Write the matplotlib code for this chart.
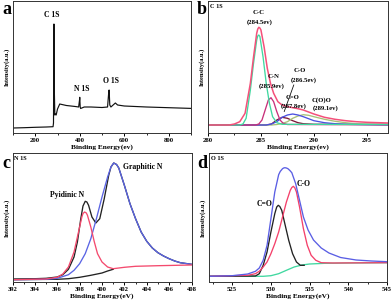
import matplotlib
matplotlib.use("Agg")
import matplotlib.pyplot as plt
from matplotlib.ticker import MultipleLocator

plt.rcParams['font.family'] = ['Liberation Serif', 'DejaVu Serif']
plt.rcParams['font.weight'] = 'bold'

# ---------------- Panel a: survey ----------------
a_x = [100, 150, 200, 250, 280, 282, 284, 286, 288, 290, 294, 300, 310, 320, 340, 360, 380, 395,
       399, 400, 402, 404, 420, 450, 500, 525, 530, 532, 535, 540, 550, 560, 570, 600, 700, 800, 900]
a_y = [5, 5.3, 5.7, 6, 6.3, 10, 109, 40, 18, 19, 18, 24, 29, 28.5, 27.5, 27, 26.5, 26,
       33, 35.7, 26, 24.5, 26, 26, 25.5, 26, 40, 43, 28, 26, 28, 30, 28, 27, 26, 25.3, 24.6]
a_labels = ["C 1S", "N 1S", "O 1S"]
a_label_x = [276, 410, 542]
a_label_y = [118, 44, 52]

# ---------------- Panel b: C 1S ----------------
b_tot_x = [280, 282, 282.5, 283, 283.5, 284, 284.3, 284.6, 284.7, 284.8, 284.9, 285.0, 285.3, 285.6, 285.9, 286.2,
           286.6, 287, 287.5, 288, 288.5, 289, 289.5, 290, 291, 292, 293, 294, 295, 297]
b_tot_y = [8, 8, 9, 11.3, 19.7, 49.7, 76, 99.7, 104, 105.7, 105, 103, 86, 64.7, 49.7, 39.7,
           31.3, 28, 26.3, 25.3, 24.3, 23, 21, 19, 15.7, 13.7, 12.3, 11.3, 10.7, 10]
b_cc_x = [280, 283, 283.3, 283.6, 284, 284.3, 284.6, 284.7, 284.8, 284.9, 285.2, 285.5, 285.8, 286.1, 286.5, 287, 297]
b_cc_y = [8, 8, 9, 14.7, 43, 69.7, 93, 97, 98, 96.5, 76, 49.7, 29.7, 16.3, 10.3, 8.7, 8.5]
b_cn_x = [280, 284.5, 284.8, 285.1, 285.4, 285.7, 285.95, 286.2, 286.5, 286.8, 287.1, 287.5, 297]
b_cn_y = [8, 8, 9, 13, 23, 33, 35.3, 31.3, 21.3, 13, 9.7, 8.5, 8.2]
b_co_x = [280, 285.5, 286, 286.5, 287, 287.5, 288, 288.5, 289, 289.5, 290, 291, 292, 293, 295, 297]
b_co_y = [8, 8, 9, 11.3, 15.7, 18, 19, 18, 16.3, 14.3, 12.3, 10.3, 9.3, 8.7, 8.3, 8]
b_coo_x = [280, 286, 286.5, 287, 287.5, 288, 288.5, 289, 289.5, 290, 291, 292, 293, 294, 295, 297]
b_coo_y = [8, 8, 8.5, 9.5, 11.3, 14.7, 17, 18.3, 17.7, 16.3, 13.7, 11.7, 10.3, 9.3, 8.7, 8.3]
b_cdo_x = [280, 285.5, 286, 286.5, 287, 287.5, 288, 288.5, 289, 290, 297]
b_cdo_y = [8, 8, 9, 13, 15.7, 14.7, 12.3, 10.3, 9.3, 8.7, 8.7]
b_labels = ["C-C", "(284.5ev)", "C-N", "(285.9ev)", "C-O", "(286.5ev)", "C=O", "(287.8ev)", "C(O)O", "(289.1ev)"]
b_label_x = [284.75, 284.87, 286.2, 286.0, 288.7, 289.0, 288.0, 288.1, 290.7, 291.1]
b_label_y = [120.3, 111, 56, 47, 62.3, 53, 35.3, 27, 33, 25]

# ---------------- Panel c: N 1S ----------------
c_tot_x = [392, 394, 395, 396, 396.5, 397, 397.5, 397.8, 398.1, 398.3, 398.5, 398.65, 398.8, 399.1, 399.45, 399.8,
           400.2, 400.6, 400.8, 401.05, 401.3, 401.5, 402, 402.5, 403, 403.5, 404, 404.5, 405, 405.5, 406, 406.5, 407, 408]
c_tot_y = [3, 3.3, 3.7, 5, 7.3, 12.7, 25, 40, 63, 76, 80.7, 80, 76.7, 65, 59, 63.3,
           83.3, 106.7, 115, 119, 117.5, 114, 96.7, 78.3, 63.3, 50, 40.7, 34, 29.3, 26, 23.3, 21, 19.3, 17.7]
c_gr_x = [392, 395, 396, 397, 397.5, 398, 398.5, 399, 399.5, 400, 400.5, 400.8, 401.05, 401.3, 401.5, 402, 402.5,
          403, 403.5, 404, 404.5, 405, 405.5, 406, 406.5, 407, 408]
c_gr_y = [2.3, 2.7, 3.7, 7.3, 11.7, 18.3, 28.3, 43.3, 63.3, 85, 105, 115, 119, 117.5, 114, 96.7, 78.3,
          63.3, 50, 40.7, 34, 29.3, 26, 23.3, 21, 19.3, 17.7]
c_py_x = [392, 395, 396, 396.5, 397, 397.5, 397.9, 398.2, 398.3, 398.45, 398.6, 398.7, 399, 399.3, 399.6, 400, 400.5,
          401, 402, 403, 405, 408]
c_py_y = [2.3, 3, 4.7, 8, 15, 30, 50, 65, 68.5, 70, 69, 66.7, 55, 40.7, 28.3, 20, 15,
          13.3, 14.7, 15.7, 16.3, 17]
c_bg_x = [392, 396, 397, 398, 399, 400, 400.5, 401]
c_bg_y = [2.3, 2.7, 3.3, 4.7, 6.7, 9, 11, 12.7]
c_labels = ["Pyidinic N", "Graphitic N"]
c_label_x = [396.9, 403.6]
c_label_y = [86.7, 115]

# ---------------- Panel d: O 1S ----------------
d_tot_x = [522, 525, 527, 528, 528.5, 529, 529.5, 530, 530.5, 531, 531.2, 531.5, 531.65, 531.8, 532, 532.2, 532.45,
           532.7, 533.2, 533.7, 534.2, 534.8, 535.5, 536.5, 537.5, 539, 541, 543, 545]
d_tot_y = [5.7, 6.3, 8, 10.7, 14, 21.7, 36.7, 63.3, 90, 107.3, 110.5, 113.3, 114, 114.3, 114, 113.3, 111.5,
           109.3, 98.3, 81.7, 65, 52, 42, 34, 29, 24.5, 22, 21, 20.3]
d_co_x = [522, 527, 528, 528.5, 529, 529.5, 530, 530.5, 531, 531.5, 532, 532.5, 532.7, 532.9, 533.1, 533.3, 533.7,
          534.2, 534.7, 535.2, 535.8, 536.5, 538, 545]
d_co_y = [5.7, 6.7, 8.3, 10.7, 15, 20, 28.3, 38.3, 50, 65, 80, 91.7, 94.5, 95.7, 94, 90, 75,
          53.3, 36.7, 26.7, 21.7, 19.3, 19, 19.3]
d_cdo_x = [522, 528, 528.5, 529, 529.5, 530, 530.5, 530.75, 530.95, 531.15, 531.4, 531.8, 532.3, 532.8, 533.3,
           533.8, 534.3]
d_cdo_y = [5.7, 6, 8.3, 16.7, 30, 50, 68.3, 75, 76.7, 75.5, 71.7, 58.3, 41.7, 28.3, 20, 16.7, 16.7]
d_bg_x = [522, 529, 530, 531, 532, 533, 534, 535, 537, 540, 545]
d_bg_y = [5.7, 5.7, 6.3, 8.3, 11.7, 15, 17, 18, 18.7, 19, 19.3]
d_labels = ["C-O", "C=O"]
d_label_x = [534.2, 529.2]
d_label_y = [98.3, 78.3]

W, H = 392, 304
fig = plt.figure(figsize=(W / 100, H / 100), dpi=100)


def rect(l, t, r, b):
    return [l / W, 1 - b / H, (r - l) / W, (b - t) / H]


def style(ax, xlim, ylim, major, minor, xlabel):
    ax.set_xlim(*xlim)
    ax.set_ylim(*ylim)
    ax.xaxis.set_major_locator(MultipleLocator(major))
    ax.xaxis.set_minor_locator(MultipleLocator(minor))
    ax.set_yticks([])
    ax.tick_params(axis='x', which='major', length=2.2, width=0.7, labelsize=4.8, pad=1.5)
    ax.tick_params(axis='x', which='minor', length=1.4, width=0.6)
    for lab in ax.get_xticklabels():
        lab.set_fontweight('bold')
    for s in ax.spines.values():
        s.set_linewidth(0.7)
        s.set_color('#333333')
    ax.set_xlabel(xlabel, fontsize=5.3, fontweight='bold', labelpad=1)
    ax.set_ylabel("Intensity(a.u.)", fontsize=4.6, fontweight='bold', labelpad=2)


lw = 0.95
# a
ax = fig.add_axes(rect(13, 1, 191, 133))
ax.plot(a_x, a_y, color='#111111', lw=0.85)
for t, x, y in zip(a_labels, a_label_x, a_label_y):
    ax.text(x, y, t, fontsize=5.5, fontweight='bold', ha='center', va='center')
style(ax, (100, 900), (0, 132), 200, 100, "Binding Energy(ev)")
fig.text(2 / W, 1 - 10 / H, "a", fontsize=13, fontweight='bold', va='center', ha='left')

# b
ax = fig.add_axes(rect(208, 1, 388, 133))
ax.plot(b_cdo_x, b_cdo_y, color='#7a1838', lw=lw)
ax.plot(b_coo_x, b_coo_y, color='#a8c078', lw=lw)
ax.plot(b_co_x, b_co_y, color='#4a50e0', lw=lw)
ax.plot(b_cn_x, b_cn_y, color='#c8307a', lw=lw)
ax.plot(b_cc_x, b_cc_y, color='#40d8a0', lw=lw)
ax.plot(b_tot_x, b_tot_y, color='#f4507a', lw=1.1)
ax.plot([288.1, 287.2], [48, 21.5], color='#111111', lw=0.6)
for t, x, y in zip(b_labels, b_label_x, b_label_y):
    ax.text(x, y, t, fontsize=4.8, fontweight='bold', ha='center', va='center')
ax.text(0.01, 0.975, "C 1S", transform=ax.transAxes, fontsize=4.5, fontweight='bold', ha='left', va='top')
style(ax, (280, 297), (0, 132), 5, 2.5, "Binding Energy(ev)")
fig.text(197 / W, 1 - 10 / H, "b", fontsize=13, fontweight='bold', va='center', ha='left')

# c
ax = fig.add_axes(rect(12.5, 153, 191.5, 282))
ax.plot(c_tot_x, c_tot_y, color='#222222', lw=lw)
ax.plot(c_bg_x, c_bg_y, color='#222222', lw=lw)
ax.plot(c_gr_x, c_gr_y, color='#5a64e4', lw=lw)
ax.plot(c_py_x, c_py_y, color='#f44a6e', lw=lw)
for t, x, y in zip(c_labels, c_label_x, c_label_y):
    ax.text(x, y, t, fontsize=5.5, fontweight='bold', ha='center', va='center')
ax.text(0.01, 0.975, "N 1S", transform=ax.transAxes, fontsize=4.5, fontweight='bold', ha='left', va='top')
style(ax, (392, 408), (0, 129), 2, 1, "Binding Energy(eV)")
fig.text(2 / W, 1 - 163 / H, "c", fontsize=13, fontweight='bold', va='center', ha='left')

# d
ax = fig.add_axes(rect(209, 153, 387, 282))
ax.plot(d_bg_x, d_bg_y, color='#40d8a0', lw=lw)
ax.plot(d_cdo_x, d_cdo_y, color='#222222', lw=lw)
ax.plot(d_co_x, d_co_y, color='#f4406a', lw=lw)
ax.plot(d_tot_x, d_tot_y, color='#5a5ee4', lw=lw)
for t, x, y in zip(d_labels, d_label_x, d_label_y):
    ax.text(x, y, t, fontsize=5.5, fontweight='bold', ha='center', va='center')
ax.text(0.01, 0.975, "O 1S", transform=ax.transAxes, fontsize=4.5, fontweight='bold', ha='left', va='top')
style(ax, (522, 545), (0, 129), 5, 2.5, "Binding Energy(eV)")
fig.text(197 / W, 1 - 163 / H, "d", fontsize=13, fontweight='bold', va='center', ha='left')

fig.savefig("out.png", dpi=100)
